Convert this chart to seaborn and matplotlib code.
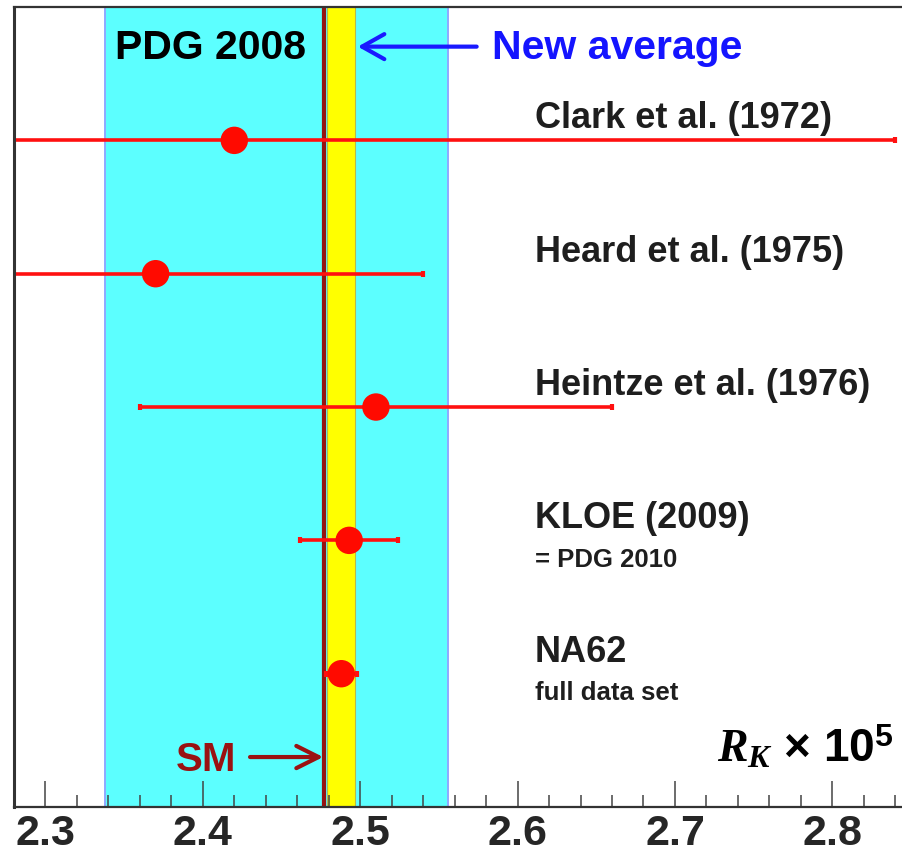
import matplotlib
matplotlib.use("Agg")
import matplotlib.pyplot as plt
from matplotlib.ticker import MultipleLocator, FixedLocator
import seaborn as sns
import pandas as pd

# Measurements of R_K = Gamma(K->e nu) / Gamma(K->mu nu), in units of 1e-5
experiments = ["Clark et al. (1972)", "Heard et al. (1975)", "Heintze et al. (1976)",
               "KLOE (2009)", "NA62"]
notes = ["", "", "", "= PDG 2010", "full data set"]
rk_values = [2.42, 2.37, 2.51, 2.493, 2.488]
rk_errors = [0.42, 0.17, 0.15, 0.031, 0.010]

pdg2008_value, pdg2008_error = 2.447, 0.109
new_avg_value, new_avg_error = 2.488, 0.009
sm_value = 2.477

x_ticks = [2.3, 2.4, 2.5, 2.6, 2.7, 2.8]

sns.set_theme(style="ticks")
plt.rcParams["font.family"] = ["Liberation Sans", "DejaVu Sans"]
plt.rcParams["font.weight"] = "bold"
plt.rcParams["mathtext.fontset"] = "custom"
plt.rcParams["mathtext.it"] = "Liberation Serif:bold:italic"
plt.rcParams["mathtext.rm"] = "Liberation Sans:bold"
plt.rcParams["mathtext.bf"] = "Liberation Sans:bold"

df = pd.DataFrame({
    "experiment": experiments,
    "note": notes,
    "rk": rk_values,
    "err": rk_errors,
})
# first entry at the top
df["row"] = len(df) - df.index

fig = plt.figure(figsize=(9.02, 8.58), dpi=100)
ax = fig.add_axes([0.0155, 0.0594, 0.9945, 0.9324])
ax.set_xlim(2.28, 2.85)
ax.set_ylim(0, 6)
ax.set_axisbelow(False)

# PDG 2008 band and new average band
ax.axvspan(pdg2008_value - pdg2008_error, pdg2008_value + pdg2008_error,
           facecolor="#5cffff", edgecolor="#8fa8ff", linewidth=1.4, zorder=1)
ax.axvspan(new_avg_value - new_avg_error, new_avg_value + new_avg_error,
           facecolor="#ffff00", edgecolor="#b8b84a", linewidth=0.8, zorder=2)
# Standard Model prediction
ax.axvline(sm_value, color="#941414", linewidth=3.0, zorder=3)

# error bars and central values
ax.errorbar(df["rk"], df["row"], xerr=df["err"], fmt="none", ecolor="#ff1010",
            elinewidth=2.6, capsize=2, capthick=3, zorder=4)
sns.scatterplot(data=df, x="rk", y="row", s=390, color="#ff0a00",
                edgecolor="none", linewidth=0, zorder=5, ax=ax, legend=False)

# experiment labels
for _, r in df.iterrows():
    ax.text(2.611, r["row"] + 0.09, r["experiment"], fontsize=26,
            fontweight="bold", color="#1e1e1e", va="baseline", ha="left", zorder=6)
    if r["note"]:
        ax.text(2.611, r["row"] - 0.20, r["note"], fontsize=18.5,
                fontweight="bold", color="#1e1e1e", va="baseline", ha="left", zorder=6)

# band annotations
ax.text(2.344, 5.61, "PDG 2008", fontsize=29.5, fontweight="bold",
        color="black", va="baseline", ha="left", zorder=6)
ax.text(2.5837, 5.61, "New average", fontsize=29.5, fontweight="bold",
        color="#1414ff", va="baseline", ha="left", zorder=6)
ax.annotate("", xy=(new_avg_value + new_avg_error + 0.0015, 5.703),
            xytext=(2.574, 5.703),
            arrowprops=dict(arrowstyle="->,head_length=0.8,head_width=0.45",
                            color="#1a1aff", lw=3.0, mutation_scale=20,
                            shrinkA=0, shrinkB=0), zorder=6)

ax.text(2.3829, 0.27, "SM", fontsize=29, fontweight="bold",
        color="#9a1212", va="baseline", ha="left", zorder=6)
ax.annotate("", xy=(sm_value - 0.0005, 0.375), xytext=(2.43, 0.375),
            arrowprops=dict(arrowstyle="->,head_length=0.8,head_width=0.4",
                            color="#9a1212", lw=3.0, mutation_scale=20,
                            shrinkA=0, shrinkB=0), zorder=6)

ax.text(2.727, 0.34,
        r"$\mathit{R}_{\mathit{K}}\,\times\,\mathrm{10}^{\mathrm{5}}$",
        fontsize=33, color="black", va="baseline", ha="left", zorder=6)

# axes styling
ax.xaxis.set_major_locator(FixedLocator(x_ticks))
ax.xaxis.set_minor_locator(MultipleLocator(0.02))
ax.set_xticklabels([f"{t:.1f}" for t in x_ticks], fontsize=31, fontweight="bold")
ax.tick_params(axis="x", which="major", direction="in", length=18.5, width=1.1,
               color="#444444", pad=5, top=False, bottom=True)
ax.tick_params(axis="x", which="minor", direction="in", length=8.5, width=1.1,
               color="#444444", top=False, bottom=True)
ax.set_yticks([])
ax.set_xlabel("")
ax.set_ylabel("")
for side in ["left", "bottom", "top", "right"]:
    ax.spines[side].set_visible(True)
    ax.spines[side].set_color("#333333")
    ax.spines[side].set_zorder(10)
ax.spines["left"].set_linewidth(2.2)
ax.spines["bottom"].set_linewidth(1.6)
ax.spines["top"].set_linewidth(1.6)
ax.set_facecolor("white")
fig.patch.set_facecolor("white")

fig.savefig("out.png", dpi=100)
